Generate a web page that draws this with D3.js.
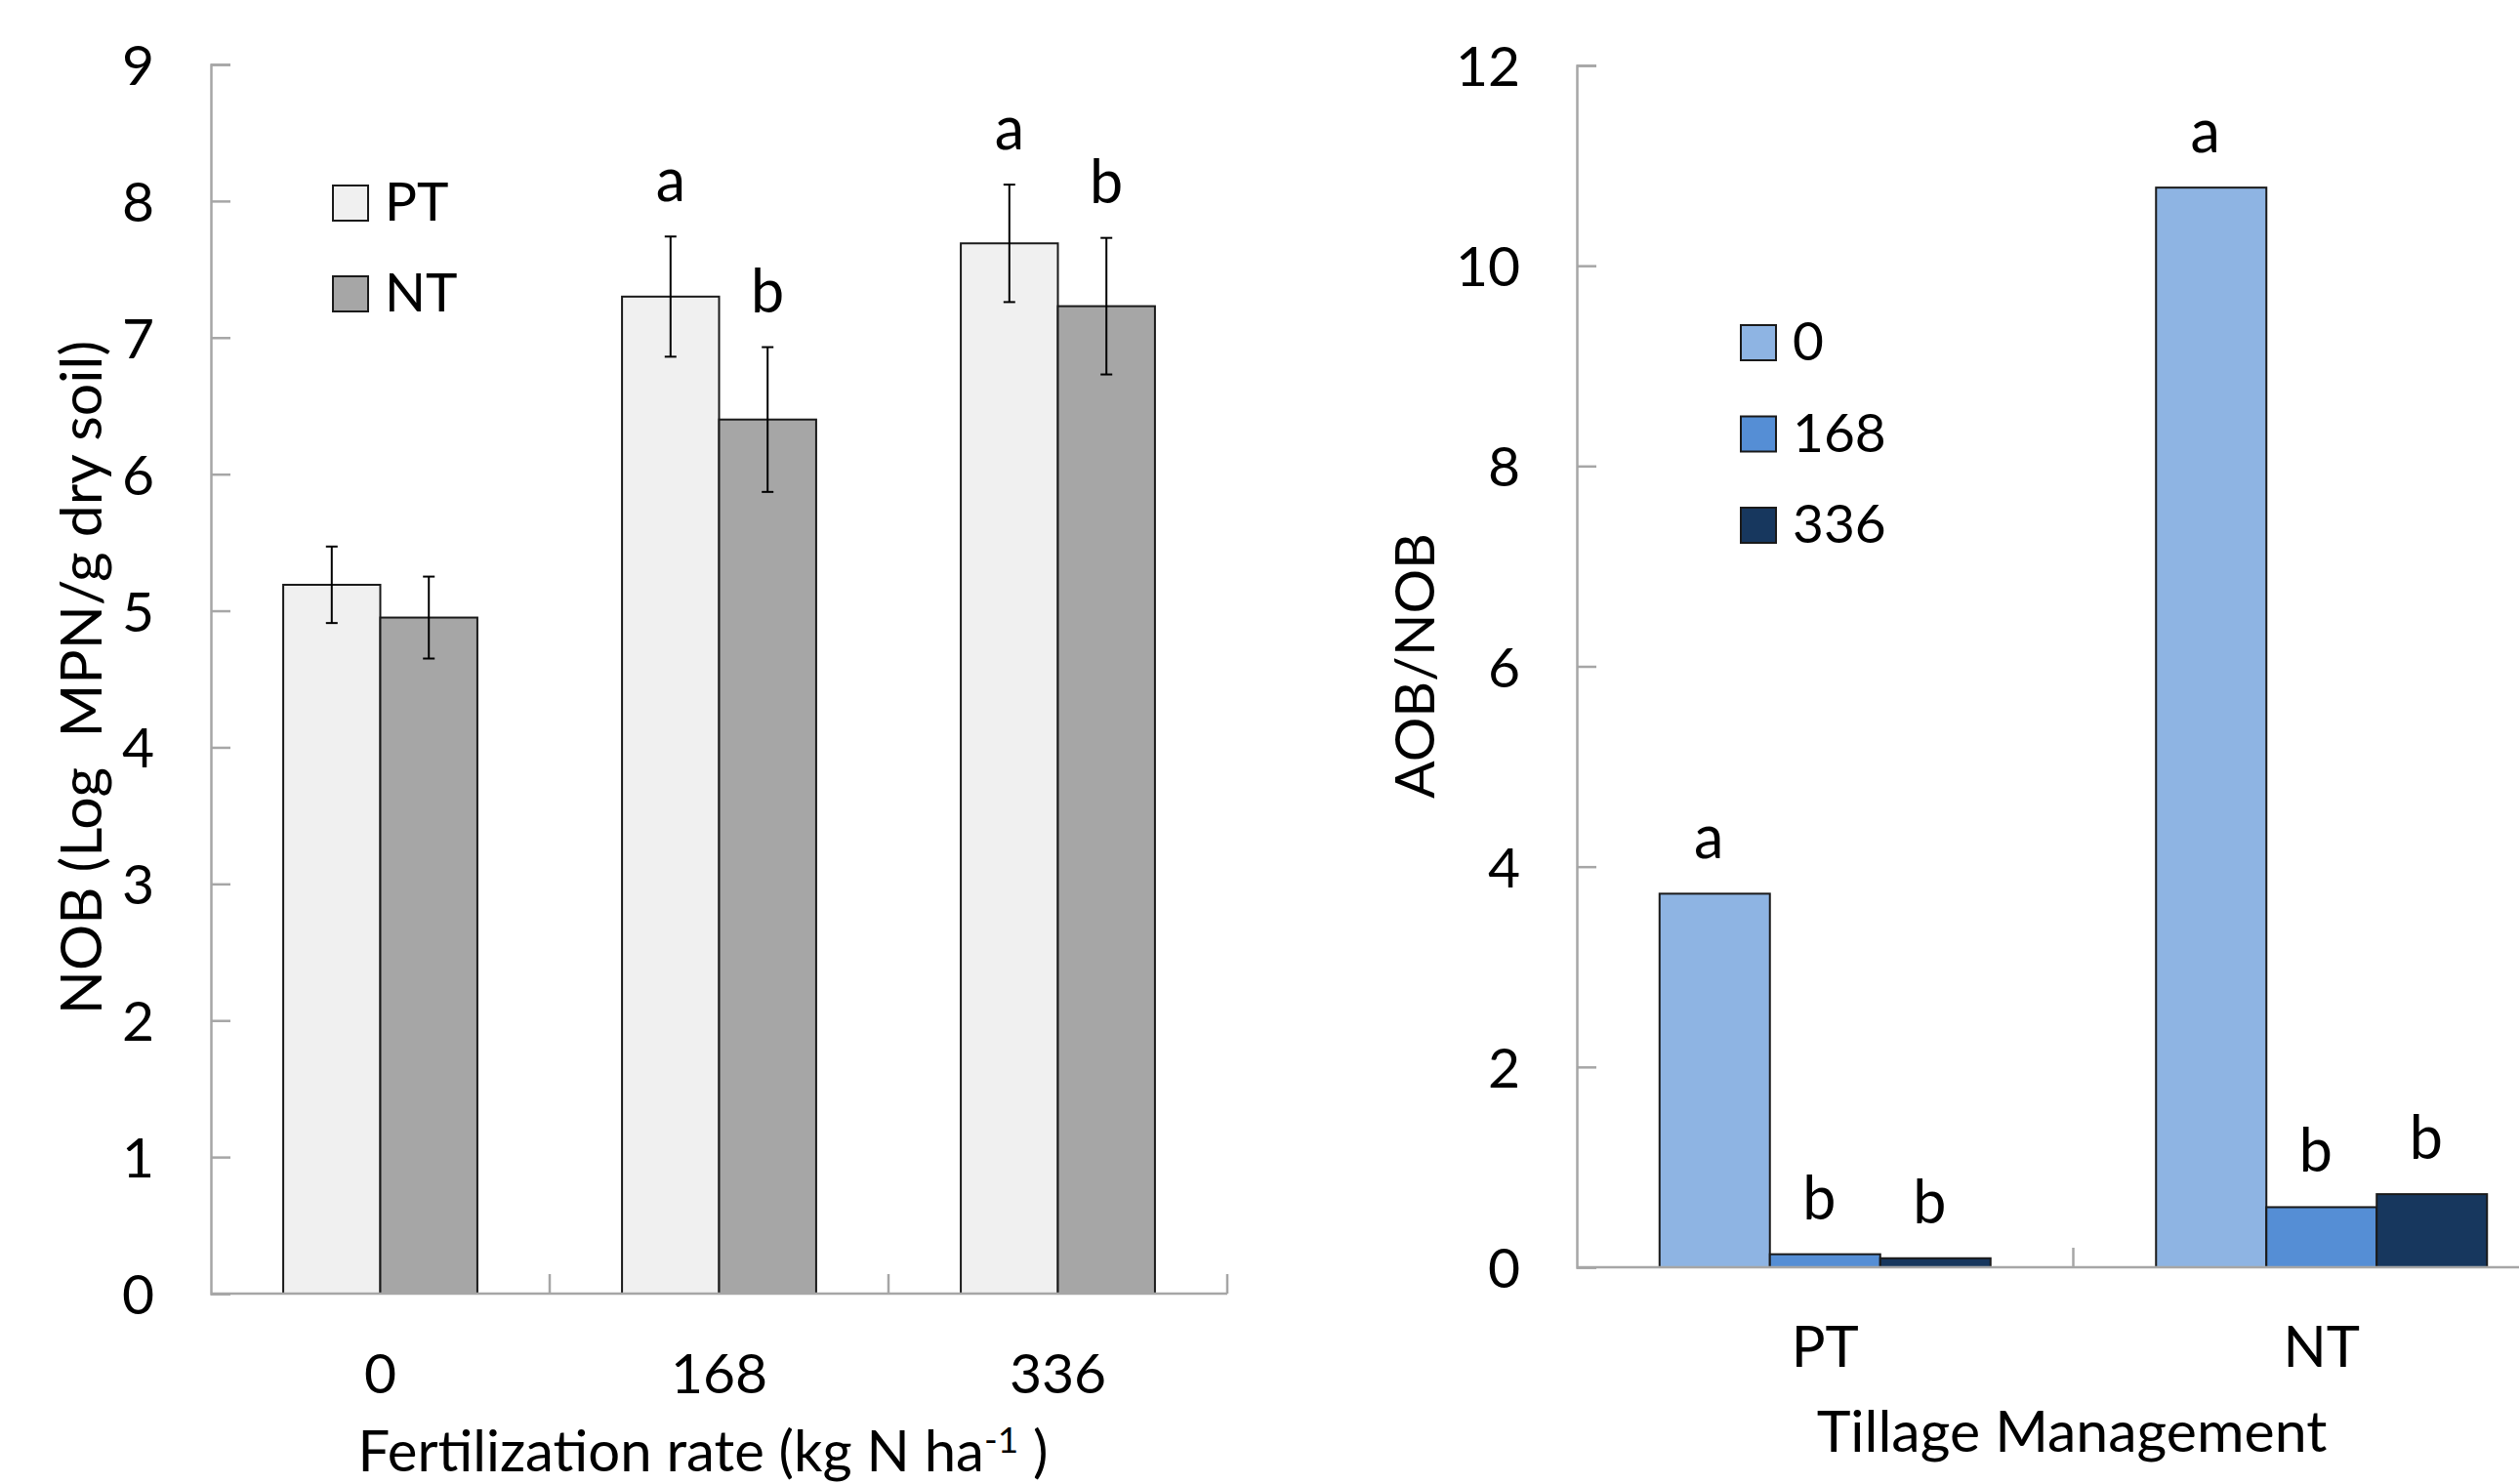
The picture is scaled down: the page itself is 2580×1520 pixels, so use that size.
<!DOCTYPE html>
<html>
<head>
<meta charset="utf-8">
<script src="https://cdn.jsdelivr.net/npm/d3@7/dist/d3.min.js"></script>
<style>
  html, body { margin: 0; padding: 0; background: #ffffff; }
  svg { display: block; }
  text { font-family: Lato, "Open Sans", sans-serif; fill: #000; }
</style>
</head>
<body>
<svg id="chart" width="2580" height="1520"></svg>
<script>
// ---------- Data: left panel (NOB) ----------
const fertRates = ["0", "168", "336"];
const tillSeries = ["PT", "NT"];
const nobPT = [5.19, 7.30, 7.69];
const nobNT = [4.95, 6.40, 7.23];
const nobPTerr = [0.28, 0.44, 0.43];
const nobNTerr = [0.30, 0.53, 0.50];
const nobPTletters = ["", "a", "a"];
const nobNTletters = ["", "b", "b"];
const leftYTicks = [0, 1, 2, 3, 4, 5, 6, 7, 8, 9];

// ---------- Data: right panel (AOB/NOB) ----------
const tillCats = ["PT", "NT"];
const rateSeries = ["0", "168", "336"];
const ratio0 = [3.73, 10.78];
const ratio168 = [0.13, 0.60];
const ratio336 = [0.09, 0.73];
const ratio0letters = ["a", "a"];
const ratio168letters = ["b", "b"];
const ratio336letters = ["b", "b"];
const rightYTicks = [0, 2, 4, 6, 8, 10, 12];

// ---------- Styles ----------
const FONT = 57;
const AXIS_COLOR = "#a6a6a6";
const leftColors = {PT: "#f0f0f0", NT: "#a6a6a6"};
const rightColors = {"0": "#8eb4e3", "168": "#558ed5", "336": "#17375e"};

const svg = d3.select("#chart");

function drawYAxis(g, y, ticks) {
  const ax = d3.axisLeft(y).tickValues(ticks).tickSize(-20).tickPadding(58).tickFormat(d3.format("d"));
  g.call(ax);
  g.select(".domain").attr("stroke", AXIS_COLOR).attr("stroke-width", 2.5);
  g.selectAll(".tick line").attr("stroke", AXIS_COLOR).attr("stroke-width", 2.5);
  g.selectAll(".tick text").attr("font-size", FONT).attr("font-family", "Lato, sans-serif").attr("dy", "0.36em").attr("fill", "#000");
}

// =============== LEFT PANEL ===============
(function () {
  const x0L = 216, x1L = 1257, yTop = 66, yBot = 1325;
  const y = d3.scaleLinear().domain([0, 9]).range([yBot, yTop]);
  const x = d3.scaleBand().domain(fertRates).range([x0L, x1L]).padding(0);
  const bw = x.bandwidth();
  const xs = d3.scaleBand().domain(tillSeries).range([bw * 0.2135, bw * 0.7865]).padding(0);
  const g = svg.append("g");

  const vals = {PT: nobPT, NT: nobNT};
  const errs = {PT: nobPTerr, NT: nobNTerr};
  const lets = {PT: nobPTletters, NT: nobNTletters};

  // bars
  tillSeries.forEach(s => {
    g.selectAll(null).data(fertRates).enter().append("rect")
      .attr("x", (d) => x(d) + xs(s))
      .attr("width", xs.bandwidth())
      .attr("y", (d, i) => y(vals[s][i]))
      .attr("height", (d, i) => y(0) - y(vals[s][i]))
      .attr("fill", leftColors[s])
      .attr("stroke", "#1a1a1a").attr("stroke-width", 2);
  });

  // error bars
  tillSeries.forEach(s => {
    fertRates.forEach((d, i) => {
      const cx = x(d) + xs(s) + xs.bandwidth() / 2;
      const hi = y(vals[s][i] + errs[s][i]);
      const lo = y(vals[s][i] - errs[s][i]);
      g.append("line").attr("x1", cx).attr("x2", cx).attr("y1", hi).attr("y2", lo).attr("stroke", "#000").attr("stroke-width", 2);
      g.append("line").attr("x1", cx - 6).attr("x2", cx + 6).attr("y1", hi).attr("y2", hi).attr("stroke", "#000").attr("stroke-width", 2);
      g.append("line").attr("x1", cx - 6).attr("x2", cx + 6).attr("y1", lo).attr("y2", lo).attr("stroke", "#000").attr("stroke-width", 2);
      if (lets[s][i]) {
        g.append("text").attr("x", cx).attr("y", hi - 36).attr("text-anchor", "middle")
          .attr("font-size", 61).text(lets[s][i]);
      }
    });
  });

  // y axis
  const gy = g.append("g").attr("transform", `translate(${x0L},0)`);
  drawYAxis(gy, y, leftYTicks);

  // x axis
  g.append("line").attr("x1", x0L).attr("x2", x1L).attr("y1", yBot).attr("y2", yBot)
    .attr("stroke", AXIS_COLOR).attr("stroke-width", 2.5);
  fertRates.forEach(d => {
    const xe = x(d) + bw;
    g.append("line").attr("x1", xe).attr("x2", xe).attr("y1", yBot).attr("y2", yBot - 20)
      .attr("stroke", AXIS_COLOR).attr("stroke-width", 2.5);
    g.append("text").attr("x", x(d) + bw / 2).attr("y", yBot + 102).attr("text-anchor", "middle")
      .attr("font-size", FONT).text(d);
  });

  // x title
  const t = g.append("text").attr("x", 720).attr("y", 1507).attr("text-anchor", "middle").attr("font-size", 58);
  t.append("tspan").text("Fertilization rate (kg N ha");
  t.append("tspan").attr("font-size", 37).attr("dy", -19).text("-1");
  t.append("tspan").attr("dy", 19).text(" )");

  // y title
  g.append("text").attr("transform", "translate(104,694) rotate(-90)").attr("text-anchor", "middle")
    .attr("font-size", 59).style("white-space", "pre")
    .text("NOB (Log  MPN/g dry soil)");

  // legend
  tillSeries.forEach((s, i) => {
    const ly = 190 + i * 93;
    g.append("rect").attr("x", 341).attr("y", ly).attr("width", 36).attr("height", 36)
      .attr("fill", leftColors[s]).attr("stroke", "#1a1a1a").attr("stroke-width", 2);
    g.append("text").attr("x", 394).attr("y", ly + 36).attr("font-size", 55).text(s);
  });
})();

// =============== RIGHT PANEL ===============
(function () {
  const x0R = 1615, yTop = 67, yBot = 1298;
  const bandW = 508.5;
  const y = d3.scaleLinear().domain([0, 12]).range([yBot, yTop]);
  const x = d3.scaleBand().domain(tillCats).range([x0R, x0R + bandW * tillCats.length]).padding(0);
  const bw = x.bandwidth();
  const xs = d3.scaleBand().domain(rateSeries).range([bw / 6, bw * 5 / 6]).padding(0);
  const g = svg.append("g");

  const vals = {"0": ratio0, "168": ratio168, "336": ratio336};
  const lets = {"0": ratio0letters, "168": ratio168letters, "336": ratio336letters};

  rateSeries.forEach(s => {
    g.selectAll(null).data(tillCats).enter().append("rect")
      .attr("x", d => x(d) + xs(s))
      .attr("width", xs.bandwidth())
      .attr("y", (d, i) => y(vals[s][i]))
      .attr("height", (d, i) => y(0) - y(vals[s][i]))
      .attr("fill", rightColors[s])
      .attr("stroke", "#1a1a1a").attr("stroke-width", 2);
    tillCats.forEach((d, i) => {
      g.append("text").attr("x", x(d) + xs(s) + xs.bandwidth() / 2 - 6).attr("y", y(vals[s][i]) - 36)
        .attr("text-anchor", "middle").attr("font-size", 61).text(lets[s][i]);
    });
  });

  const gy = g.append("g").attr("transform", `translate(${x0R},0)`);
  drawYAxis(gy, y, rightYTicks);

  g.append("line").attr("x1", x0R).attr("x2", x0R + bandW * tillCats.length).attr("y1", yBot).attr("y2", yBot)
    .attr("stroke", AXIS_COLOR).attr("stroke-width", 2.5);
  tillCats.forEach(d => {
    const xe = x(d) + bw;
    g.append("line").attr("x1", xe).attr("x2", xe).attr("y1", yBot).attr("y2", yBot - 20)
      .attr("stroke", AXIS_COLOR).attr("stroke-width", 2.5);
    g.append("text").attr("x", x(d) + bw / 2).attr("y", yBot + 102).attr("text-anchor", "middle")
      .attr("font-size", 58).text(d);
  });

  g.append("text").attr("x", 2122).attr("y", 1487).attr("text-anchor", "middle").attr("font-size", 59)
    .text("Tillage Management");

  g.append("text").attr("transform", "translate(1469,682) rotate(-90)").attr("text-anchor", "middle")
    .attr("font-size", 57).text("AOB/NOB");

  rateSeries.forEach((s, i) => {
    const ly = 333 + i * 93.5;
    g.append("rect").attr("x", 1783).attr("y", ly).attr("width", 36).attr("height", 36)
      .attr("fill", rightColors[s]).attr("stroke", "#1a1a1a").attr("stroke-width", 2);
    g.append("text").attr("x", 1836).attr("y", ly + 36).attr("font-size", 55).text(s);
  });
})();
</script>
</body>
</html>
